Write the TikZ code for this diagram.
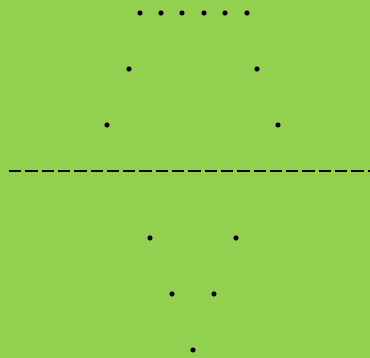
\documentclass[tikz,border=0pt]{standalone}
\begin{document}
\begin{tikzpicture}[x=1pt,y=-1pt,
  dotmark/.style={circle,fill=black,inner sep=0pt,minimum size=5.2pt},
  sepline/.style={line width=2.3pt,dash pattern=on 12.3pt off 4pt}]
\definecolor{bggreen}{HTML}{92D050}
\fill[bggreen] (0,0) rectangle (370,358);
\useasboundingbox (0,0) rectangle (370,358);
\foreach \x [count=\i] in {140,161,182,204,225,247} \node[dotmark] (t\i) at (\x,13) {};
\node[dotmark] (a1) at (129,69) {};
\node[dotmark] (a2) at (257,69) {};
\node[dotmark] (b1) at (107,125) {};
\node[dotmark] (b2) at (278,125) {};
\coordinate (l1) at (9,171);
\coordinate (l2) at (370,171);
\draw[sepline] (l1) -- (l2);
\node[dotmark] (c1) at (150,238) {};
\node[dotmark] (c2) at (236,238) {};
\node[dotmark] (d1) at (172,294) {};
\node[dotmark] (d2) at (214,294) {};
\node[dotmark] (e1) at (193,350) {};
\end{tikzpicture}
\end{document}
